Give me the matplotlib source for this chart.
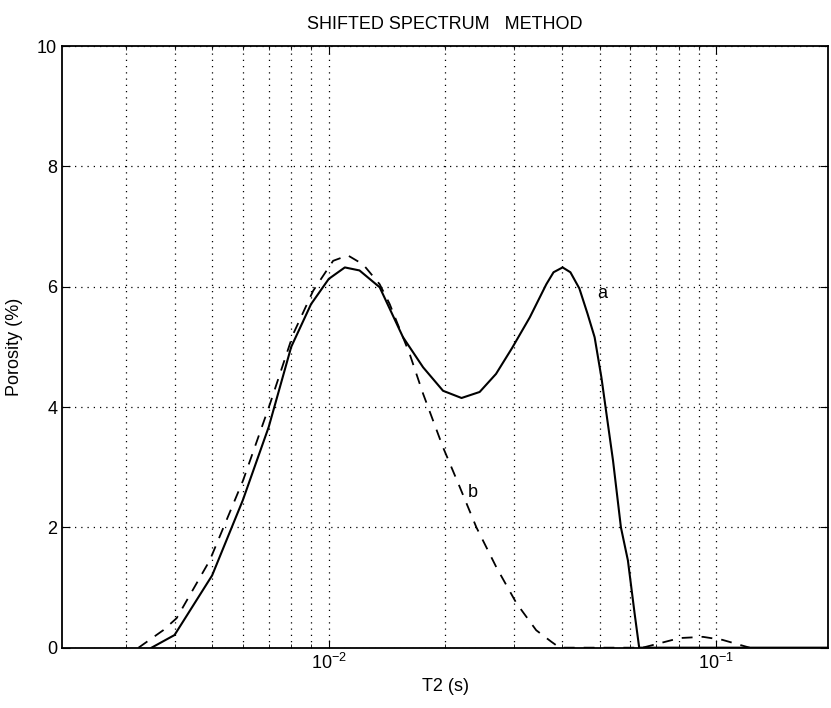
import matplotlib
matplotlib.use("Agg")
import matplotlib.pyplot as plt
from matplotlib.ticker import LogLocator, NullFormatter, FixedLocator

plt.rcParams['font.family'] = ['Liberation Sans', 'DejaVu Sans']

# curve a: shifted spectrum (solid)
t2_a = [0.00349, 0.0040, 0.0050, 0.0060, 0.0070, 0.0080, 0.0090, 0.0100, 0.0110,
        0.0120, 0.01353, 0.01554, 0.01751, 0.01971, 0.0220, 0.0245, 0.0270, 0.0297,
        0.0330, 0.0364, 0.0380, 0.0401, 0.0420, 0.0443, 0.0465, 0.0485, 0.0505,
        0.0519, 0.0541, 0.0567, 0.0591, 0.0615, 0.0632, 0.194]
por_a = [0.0, 0.21, 1.2, 2.45, 3.67, 5.0, 5.71, 6.13, 6.32,
         6.27, 5.99, 5.16, 4.66, 4.27, 4.15, 4.25, 4.55, 4.98,
         5.49, 6.04, 6.24, 6.32, 6.24, 5.97, 5.55, 5.16, 4.49,
         3.94, 3.11, 2.0, 1.45, 0.57, 0.0, 0.0]

# curve b: original spectrum (dashed)
t2_b = [0.00323, 0.00374, 0.00405, 0.00493, 0.00601, 0.00705, 0.00809, 0.00911,
        0.01026, 0.0112, 0.01226, 0.01353, 0.01436, 0.01617, 0.01751, 0.01971,
        0.02177, 0.02403, 0.02704, 0.03048, 0.03428, 0.03748, 0.0394,
        0.0645, 0.0804, 0.0923, 0.1036, 0.1218]
por_b = [0.0, 0.29, 0.49, 1.45, 2.78, 4.05, 5.21, 5.93,
         6.43, 6.52, 6.37, 6.04, 5.71, 4.88, 4.22, 3.33,
         2.67, 2.0, 1.34, 0.74, 0.29, 0.1, 0.0,
         0.0, 0.16, 0.18, 0.13, 0.0]

fig = plt.figure(figsize=(8.31, 7.08), dpi=100)
ax = fig.add_axes([0.0746, 0.0852, 0.9218, 0.8498])

ax.plot(t2_a, por_a, color='black', lw=1.5)
ax.plot(t2_b, por_b, color='black', lw=1.3, dashes=(6, 5))

ax.set_xscale('log')
ax.set_xlim(0.00205, 0.194)
ax.set_ylim(0, 10)
ax.set_yticks([0, 2, 4, 6, 8, 10])
ax.xaxis.set_major_locator(FixedLocator([0.01, 0.1]))
ax.xaxis.set_minor_locator(LogLocator(base=10, subs=range(2, 10)))
ax.xaxis.set_minor_formatter(NullFormatter())

ax.grid(True, which='major', axis='both', color='black', ls=(0, (1, 4)), lw=0.9)
ax.grid(True, which='minor', axis='x', color='black', ls=(0, (1, 4)), lw=0.9)
ax.tick_params(which='both', direction='in', top=True, right=True, labelsize=13)
ax.tick_params(which='major', length=6)
ax.tick_params(which='minor', length=3)
for s in ax.spines.values():
    s.set_linewidth(1.3)

ax.text(0.0506, 5.88, 'a', fontsize=13, ha='center', va='center')
ax.text(0.0235, 2.58, 'b', fontsize=13, ha='center', va='center')

ax.set_xlabel('T2 (s)', fontsize=13, labelpad=4)
ax.set_ylabel('Porosity (%)', fontsize=13, labelpad=10)
ax.set_title('SHIFTED SPECTRUM   METHOD', fontsize=13, pad=12)

fig.savefig('out.png', dpi=100)
